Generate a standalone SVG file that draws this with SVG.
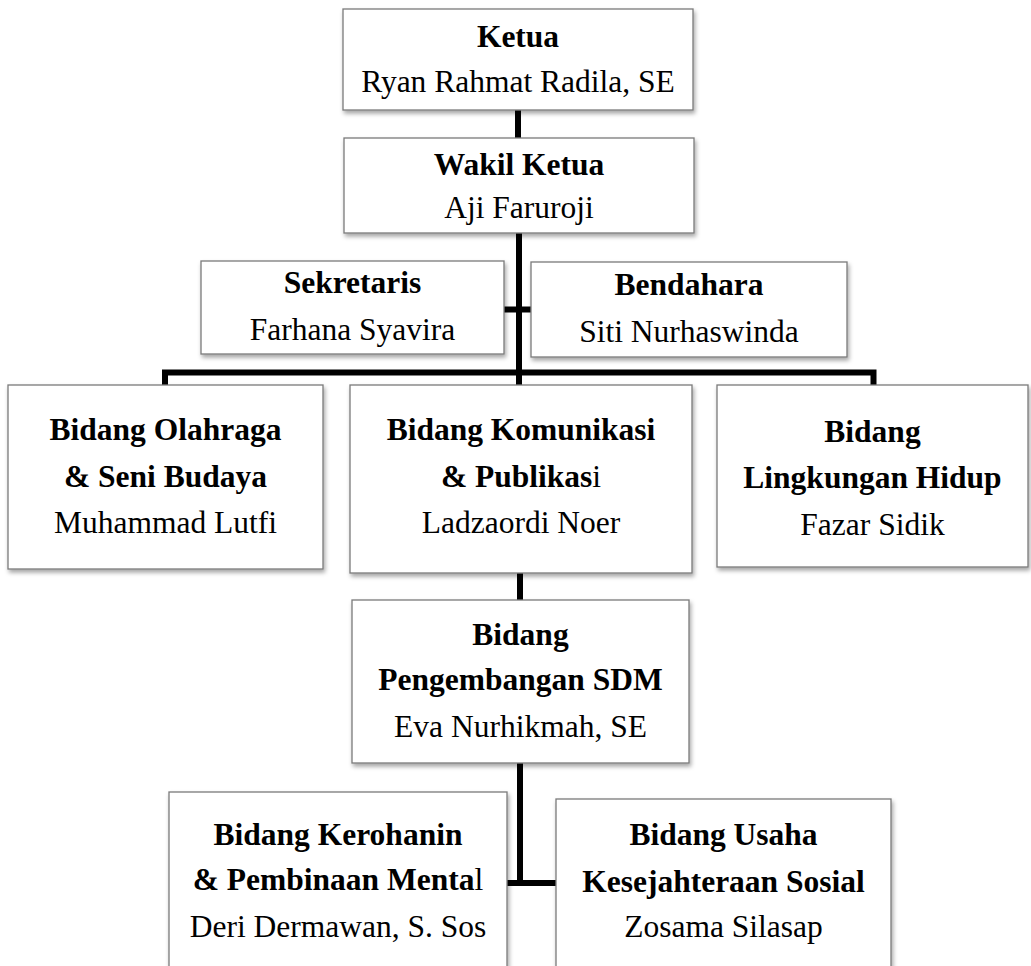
<svg xmlns="http://www.w3.org/2000/svg" width="1031" height="966" viewBox="0 0 1031 966">
<style>
.box{fill:#fff;stroke:#7a7a7a;stroke-width:1.3;filter:url(#sh)}
.t{font-family:"Liberation Serif","Times New Roman",serif;font-size:31.5px;text-anchor:middle;fill:#000}
.b{font-weight:bold}
.n{font-weight:normal}
.c{stroke:#000;stroke-width:6;fill:none;stroke-linecap:butt}
</style>
<defs>
<filter id="sh" x="-5%" y="-5%" width="115%" height="120%">
<feDropShadow dx="1.5" dy="3" stdDeviation="2" flood-color="#000" flood-opacity="0.35"/>
</filter>
</defs>
<rect width="1031" height="966" fill="#fff"/>
<g id="connectors">
<path class="c" d="M518 110V138"/>
<path class="c" d="M519 233V385"/>
<path class="c" d="M504 309.5H531"/>
<path class="c" d="M165 385V372.5H873.5V385"/>
<path class="c" d="M520 573V600"/>
<path class="c" d="M520 763V883"/>
<path class="c" d="M507 883H556"/>
</g>
<g id="ketua">
<rect class="box" x="343" y="9" width="350" height="101"/>
<text class="t b" x="518" y="47">Ketua</text>
<text class="t" x="518" y="92">Ryan Rahmat Radila, SE</text>
</g>
<g id="wakil">
<rect class="box" x="344" y="138" width="350" height="95"/>
<text class="t b" x="519" y="175">Wakil Ketua</text>
<text class="t" x="519" y="218">Aji Faruroji</text>
</g>
<g id="sekretaris">
<rect class="box" x="201" y="261" width="303" height="93"/>
<text class="t b" x="352.5" y="293">Sekretaris</text>
<text class="t" x="352.5" y="340">Farhana Syavira</text>
</g>
<g id="bendahara">
<rect class="box" x="531" y="262" width="316" height="95"/>
<text class="t b" x="689" y="295">Bendahara</text>
<text class="t" x="689" y="342">Siti Nurhaswinda</text>
</g>
<g id="olahraga">
<rect class="box" x="8" y="385" width="315" height="184"/>
<text class="t b" x="165.5" y="440">Bidang Olahraga</text>
<text class="t b" x="165.5" y="487">&amp; Seni Budaya</text>
<text class="t" x="165.5" y="533">Muhammad Lutfi</text>
</g>
<g id="komunikasi">
<rect class="box" x="350" y="385" width="342" height="188"/>
<text class="t b" x="521" y="440">Bidang Komunikasi</text>
<text class="t b" x="521" y="487">&amp; Publikas<tspan class="n">i</tspan></text>
<text class="t" x="521" y="533">Ladzaordi Noer</text>
</g>
<g id="lingkungan">
<rect class="box" x="717" y="385" width="311" height="182"/>
<text class="t b" x="872.5" y="442">Bidang</text>
<text class="t b" x="872.5" y="488">Lingkungan Hidup</text>
<text class="t" x="872.5" y="535">Fazar Sidik</text>
</g>
<g id="sdm">
<rect class="box" x="352" y="600" width="337" height="163"/>
<text class="t b" x="520.5" y="645">Bidang</text>
<text class="t b" x="520.5" y="690">Pengembangan SDM</text>
<text class="t" x="520.5" y="737">Eva Nurhikmah, SE</text>
</g>
<g id="kerohanin">
<rect class="box" x="169" y="792" width="338" height="190"/>
<text class="t b" x="338" y="845">Bidang Kerohanin</text>
<text class="t b" x="338" y="890">&amp; Pembinaan Menta<tspan class="n">l</tspan></text>
<text class="t" x="338" y="937">Deri Dermawan, S. Sos</text>
</g>
<g id="usaha">
<rect class="box" x="556" y="799" width="335" height="190"/>
<text class="t b" x="723.5" y="845">Bidang Usaha</text>
<text class="t b" x="723.5" y="892">Kesejahteraan Sosial</text>
<text class="t" x="723.5" y="937">Zosama Silasap</text>
</g>
</svg>
